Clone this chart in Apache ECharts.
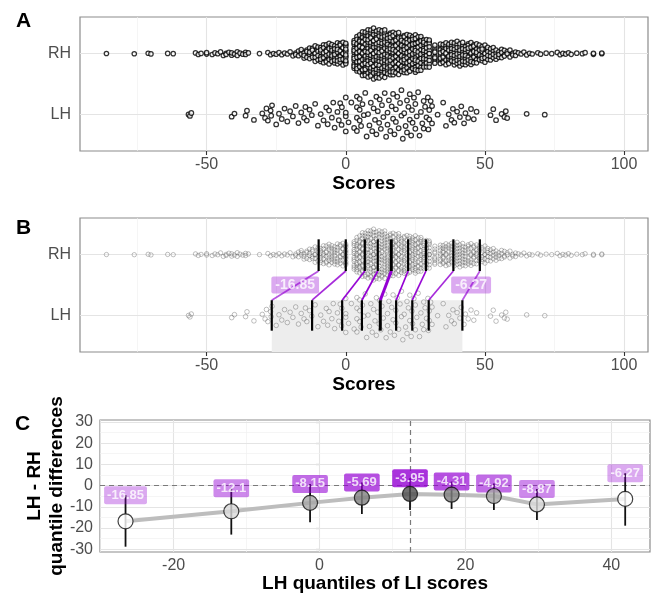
<!DOCTYPE html>
<html>
<head>
<meta charset="utf-8">
<script src="https://cdn.jsdelivr.net/npm/echarts@6/dist/echarts.min.js"></script>
<style>
  html, body { margin: 0; padding: 0; background: #fff; }
  #chart { width: 651px; height: 595px; }
</style>
</head>
<body>
<div id="chart"></div>
<script>
const rhValues = [-86, -76, -71, -70, -64, -62, -54, -53, -52, -50, -48, -47, -46, -45, -44, -43, -42, -41, -40, -39, -38, -37, -36, -35, -31, -28, -27, -26, -25, -24, -23, -22, -21,
  -20, -19, -18, -17, -16, -15, -14, -13, -12, -11, -10,
  -9, -8, -7, -6, -5, -4, -3, -2, -1, 0,
  3, 4, 5, 6, 7, 8, 9, 10, 11, 12, 13, 14, 15, 16,
  17, 18, 19, 20, 21, 22, 23, 24, 25, 26, 27, 28, 29, 30, 32,
  34, 35, 36, 37, 38, 39, 40, 41, 42, 43, 44, 45, 46, 47, 48,
  49, 50, 51, 52, 53, 54, 55, 56, 57, 58, 59, 60, 61, 62, 63, 64, 65, 66, 67, 69, 70, 72, 74, 76, 77, 78, 79, 80, 81, 83, 85, 86, 89, 92, 100];
const rhCounts = [1, 1, 1, 1, 1, 1, 1, 1, 1, 2, 1, 1, 1, 1, 1, 2, 1, 2, 1, 2, 1, 1, 2, 1, 1, 1, 1, 1, 1, 1, 1, 1, 1,
  1, 1, 2, 2, 3, 3, 3, 4, 4, 5, 5,
  6, 6, 6, 7, 7, 7, 7, 7, 7, 12,
  12, 13, 14, 15, 15, 15, 16, 16, 16, 15, 15, 15, 14, 14,
  13, 13, 12, 12, 12, 12, 12, 12, 12, 11, 11, 11, 11, 11, 9,
  8, 8, 7, 7, 7, 8, 8, 8, 8, 7, 7, 7, 7, 6, 6,
  6, 5, 5, 4, 4, 4, 3, 3, 3, 2, 2, 2, 2, 1, 1, 1, 1, 1, 1, 1, 1, 1, 1, 1, 1, 1, 1, 1, 1, 1, 1, 1, 2, 2];

// LH laterality scores
const lhScores = [-56.5, -56, -55.5, -41, -40, -36, -35.5, -33, -30, -29, -28.5, -28, -27, -26.8, -26.5,
  -25, -24, -23, -22, -21, -20, -19, -18, -17, -16, -15, -14.5, -14, -13, -12.2,
  -11, -10, -9, -8, -7, -6.5, -6, -5, -4.5, -4, -3, -2.5, -2, -1.5, -1.4,
  0, 0, 0, 0, 1, 2, 3, 4, 4, 4, 4, 5, 5, 5, 5.5,
  6, 6.5, 7, 7.5, 8, 8.5, 9, 9.5, 10, 10.5, 11, 11, 11.5, 12, 12.2,
  12.6, 13, 13.5, 14, 14.5, 15, 15, 15.5, 16, 16.5, 17, 17, 17.5, 18, 18,
  18.5, 19, 19.5, 20, 20, 20.5, 21, 21.5, 22, 22, 22.5, 23, 23, 23.5, 23.8,
  24, 24.5, 25, 25, 25.5, 26, 26.5, 27, 27.5, 28, 28, 28.5, 29, 29.5, 29.7,
  30, 30, 30.5, 31, 31, 33, 35, 36, 37, 38, 38.5, 39, 40, 41, 41.5,
  42.5, 43, 44, 45, 46, 47, 52, 53, 54, 56, 57, 57.5, 58, 65, 71.5];

// shift function: deciles of each group and LH - RH differences with intervals
const lhDeciles = [-26.6, -12.1, -1.3, 5.8, 12.4, 18.1, 23.9, 29.8, 41.9];
const rhDeciles = [-9.75, 0, 6.85, 11.49, 16.35, 22.41, 28.82, 38.67, 48.17];
const differences = [-16.85, -12.1, -8.15, -5.69, -3.95, -4.31, -4.92, -8.87, -6.27];
const ciLow = [-28.8, -23.1, -17.3, -13.4, -11.5, -11, -11.5, -16.2, -18.9];
const ciHigh = [-4.5, -1.3, 0.8, 1.5, 3.4, 1.9, 1, -1.6, 5.8];

const groups = ['LH', 'RH'];
const scoreTicks = [-50, 0, 50, 100];
const scoreMinor = [-75, -25, 25, 75];
const quantTicks = [-20, 0, 20, 40];
const quantMinor = [-30, -10, 10, 30];
const diffTicks = [-30, -20, -10, 0, 10, 20, 30];
const diffMinor = [-25, -15, -5, 5, 15, 25];

// styles
const decileAlpha = [0.42, 0.58, 0.72, 0.86, 1, 0.86, 0.72, 0.58, 0.42];
const decileFill = ['#ffffff', '#d9d9d9', '#a6a6a6', '#808080', '#4d4d4d', '#808080', '#a6a6a6', '#d9d9d9', '#ffffff'];
const violet = a => 'rgba(148,0,211,' + a + ')';
const FONT = 'Liberation Sans';

// quasirandom offsets (same idea as ggbeeswarm::geom_quasirandom)
function vanDerCorput(n) {
  const out = [];
  for (let i = 1; i <= n; i++) {
    let k = i, f = 0.5, v = 0;
    while (k > 0) { v += (k % 2) * f; k = Math.floor(k / 2); f /= 2; }
    out.push(v);
  }
  return out;
}
function quantile(s, p) {
  const h = (s.length - 1) * p, lo = Math.floor(h);
  return s[lo] + (h - lo) * ((s[lo + 1] ?? s[lo]) - s[lo]);
}
function quasirandom(values, center, width) {
  const s = values.slice().sort((a, b) => a - b);
  const n = s.length;
  const mean = s.reduce((a, b) => a + b, 0) / n;
  const sd = Math.sqrt(s.reduce((a, b) => a + (b - mean) * (b - mean), 0) / (n - 1));
  const iqr = quantile(s, 0.75) - quantile(s, 0.25);
  const bw = 0.5 * 0.9 * Math.min(sd, iqr / 1.34) * Math.pow(n, -0.2);
  const dens = s.map(v => s.reduce((acc, w) => acc + Math.exp(-0.5 * ((v - w) / bw) ** 2), 0));
  const maxD = Math.max(...dens);
  const vdc = vanDerCorput(n);
  return s.map((v, i) => [v, center + (vdc[i] - 0.5) * 2 * width * dens[i] / maxD]);
}

const rhAll = [];
rhValues.forEach((v, i) => { for (let k = 0; k < rhCounts[i]; k++) rhAll.push(v); });
const rhPoints = quasirandom(rhAll, 2, 0.42);
const lhPoints = quasirandom(lhScores, 1, 0.42);

function gridLines(major, minor, axis) {
  const d = [];
  minor.forEach(v => d.push({ [axis]: v, lineStyle: { color: '#f0f0f0', width: 0.7, type: 'solid' } }));
  major.forEach(v => d.push({ [axis]: v, lineStyle: { color: '#e4e4e4', width: 1.1, type: 'solid' } }));
  return d;
}
function markLines(data, z) {
  return { silent: true, symbol: ['none', 'none'], label: { show: false }, animation: false, z: z, data: data };
}

const tickStyle = { show: true, length: 4, lineStyle: { color: '#333', width: 1.1 } };
const labelStyle = { color: '#4d4d4d', fontSize: 16, fontFamily: FONT };
const nameStyle = { color: '#000', fontSize: 19, fontWeight: 'bold', fontFamily: FONT };

function scoreAxis(idx) {
  return {
    type: 'value', gridIndex: idx, min: -95.5, max: 108.6,
    name: 'Scores', nameLocation: 'middle', nameGap: 23, nameTextStyle: nameStyle, nameMoveOverlap: false,
    axisLine: { show: false },
    axisTick: Object.assign({ customValues: scoreTicks }, tickStyle),
    axisLabel: Object.assign({ customValues: scoreTicks, margin: 6 }, labelStyle),
    splitLine: { show: false }
  };
}
function groupAxis(idx) {
  return {
    type: 'value', gridIndex: idx, min: 0.4, max: 2.6,
    axisLine: { show: false },
    axisTick: Object.assign({ customValues: [1, 2] }, tickStyle),
    axisLabel: Object.assign({ customValues: [1, 2], margin: 9, formatter: v => groups[Math.round(v) - 1] }, labelStyle),
    splitLine: { show: false }
  };
}
const gridBase = { show: true, backgroundColor: '#fff', borderColor: '#8c8c8c', borderWidth: 1.2, containLabel: false, outerBoundsMode: 'none' };

function segment(styleFn) {
  return function (params, api) {
    const p0 = api.coord([api.value(0), api.value(1)]);
    const p1 = api.coord([api.value(2), api.value(3)]);
    return { type: 'line', shape: { x1: p0[0], y1: p0[1], x2: p1[0], y2: p1[1] }, style: styleFn(api.value(4)) };
  };
}

const decileSegs = [];
rhDeciles.forEach((x, i) => decileSegs.push([x, 1.73, x, 2.25, i]));
lhDeciles.forEach((x, i) => decileSegs.push([x, 0.75, x, 1.25, i]));
const linkSegs = rhDeciles.map((x, i) => [x, 1.73, lhDeciles[i], 1.25, i]);
const bLabels = [0, 8].map(i => ({
  value: [(rhDeciles[i] + lhDeciles[i]) / 2, 1.5, String(differences[i])],
  label: { backgroundColor: violet(decileAlpha[i]) }
}));
const ciSegs = lhDeciles.map((x, i) => [x, ciLow[i], x, ciHigh[i], i]);
const cLabels = lhDeciles.map((x, i) => ({
  value: [x, ciHigh[i], String(differences[i])],
  label: { backgroundColor: violet(decileAlpha[i]) }
}));
const cPoints = lhDeciles.map((x, i) => ({ value: [x, differences[i]], itemStyle: { color: decileFill[i] } }));

const labelBox = {
  show: true, position: 'inside', formatter: p => p.value[2], color: '#fff',
  fontWeight: 'bold', fontFamily: FONT, borderRadius: 2
};
const swarmA = { color: '#fff', borderColor: '#000', borderWidth: 1.25 };
const swarmB = { color: 'rgba(255,255,255,0.2)', borderColor: 'rgba(60,60,60,0.45)', borderWidth: 0.9 };

const option = {
  animation: false,
  textStyle: { fontFamily: FONT },
  grid: [
    Object.assign({ left: 80, top: 17, width: 568, height: 134 }, gridBase),
    Object.assign({ left: 80, top: 218, width: 568, height: 134 }, gridBase),
    Object.assign({ left: 100, top: 420, width: 550, height: 132 }, gridBase)
  ],
  xAxis: [
    scoreAxis(0),
    scoreAxis(1),
    {
      type: 'value', gridIndex: 2, min: -30.1, max: 45.3,
      name: 'LH quantiles of LI scores', nameLocation: 'middle', nameGap: 22, nameTextStyle: nameStyle, nameMoveOverlap: false,
      axisLine: { show: false },
      axisTick: Object.assign({ customValues: quantTicks }, tickStyle),
      axisLabel: Object.assign({ customValues: quantTicks, margin: 6 }, labelStyle),
      splitLine: { show: false }
    }
  ],
  yAxis: [
    groupAxis(0),
    groupAxis(1),
    {
      type: 'value', gridIndex: 2, min: -31.3, max: 30.9,
      name: 'LH - RH\nquantile differences', nameLocation: 'middle', nameRotate: 90, nameGap: 32, nameMoveOverlap: false,
      nameTextStyle: Object.assign({ lineHeight: 22 }, nameStyle),
      axisLine: { show: false },
      axisTick: Object.assign({ customValues: diffTicks }, tickStyle),
      axisLabel: Object.assign({ customValues: diffTicks, margin: 7 }, labelStyle),
      splitLine: { show: false }
    }
  ],
  graphic: [
    { type: 'text', left: 16, top: 11, style: { text: 'A', font: 'bold 21px "Liberation Sans"', fill: '#000' } },
    { type: 'text', left: 16, top: 218, style: { text: 'B', font: 'bold 21px "Liberation Sans"', fill: '#000' } },
    { type: 'text', left: 15, top: 414, style: { text: 'C', font: 'bold 21px "Liberation Sans"', fill: '#000' } }
  ],
  series: [
    // ---- A
    {
      type: 'scatter', xAxisIndex: 0, yAxisIndex: 0, data: rhPoints, symbolSize: 4.4, silent: true,
      itemStyle: swarmA,
      markLine: markLines(gridLines(scoreTicks, scoreMinor, 'xAxis').concat(gridLines([1, 2], [], 'yAxis')), 1)
    },
    {
      type: 'scatter', xAxisIndex: 0, yAxisIndex: 0, data: lhPoints, symbolSize: 4.6, silent: true,
      itemStyle: swarmA
    },
    // ---- B
    {
      type: 'scatter', xAxisIndex: 1, yAxisIndex: 1, data: rhPoints, symbolSize: 4.4, silent: true,
      itemStyle: swarmB,
      markLine: markLines(gridLines(scoreTicks, scoreMinor, 'xAxis').concat(gridLines([1, 2], [], 'yAxis')), 1),
      markArea: {
        silent: true, z: 1.5, itemStyle: { color: '#ededed' },
        data: [[{ xAxis: lhDeciles[0], yAxis: 1.25 }, { xAxis: lhDeciles[8], yAxis: 0.4 }]]
      }
    },
    {
      type: 'scatter', xAxisIndex: 1, yAxisIndex: 1, data: lhPoints, symbolSize: 4.6, silent: true,
      itemStyle: swarmB
    },
    {
      type: 'custom', xAxisIndex: 1, yAxisIndex: 1, data: linkSegs, silent: true, z: 3,
      renderItem: segment(i => ({ stroke: violet(Math.min(1, decileAlpha[i] + 0.25)), lineWidth: i === 4 ? 3 : 1.7 }))
    },
    {
      type: 'custom', xAxisIndex: 1, yAxisIndex: 1, data: decileSegs, silent: true, z: 4,
      renderItem: segment(i => ({ stroke: '#000', lineWidth: i === 4 ? 3 : 2.2 }))
    },
    {
      type: 'scatter', xAxisIndex: 1, yAxisIndex: 1, data: bLabels, symbolSize: 1, silent: true, z: 5,
      itemStyle: { color: 'rgba(0,0,0,0)' },
      label: Object.assign({ fontSize: 14, padding: [2, 4, 1, 4] }, labelBox)
    },
    // ---- C
    {
      type: 'line', xAxisIndex: 2, yAxisIndex: 2, data: lhDeciles.map((x, i) => [x, differences[i]]),
      showSymbol: false, silent: true, z: 2,
      lineStyle: { color: '#bdbdbd', width: 4 },
      markLine: markLines(
        gridLines(quantTicks, quantMinor, 'xAxis')
          .concat(gridLines(diffTicks, diffMinor, 'yAxis'))
          .concat([
            { yAxis: 0, lineStyle: { color: '#7a7a7a', width: 1.2, type: [5, 4] } },
            { xAxis: lhDeciles[4], lineStyle: { color: '#7a7a7a', width: 1.2, type: [5, 4] } }
          ]), 1)
    },
    {
      type: 'custom', xAxisIndex: 2, yAxisIndex: 2, data: ciSegs, silent: true, z: 3,
      renderItem: segment(() => ({ stroke: '#111', lineWidth: 1.8 }))
    },
    {
      type: 'scatter', xAxisIndex: 2, yAxisIndex: 2, data: cLabels, symbolSize: 1, silent: true, z: 4,
      itemStyle: { color: 'rgba(0,0,0,0)' },
      label: Object.assign({ fontSize: 13, padding: [3, 3, 2, 3] }, labelBox)
    },
    {
      type: 'scatter', xAxisIndex: 2, yAxisIndex: 2, data: cPoints, symbolSize: 15, silent: true, z: 5,
      itemStyle: { borderColor: '#111', borderWidth: 1.2 }
    }
  ]
};

const chart = echarts.init(document.getElementById('chart'), null, { renderer: 'canvas' });
chart.setOption(option);
</script>
</body>
</html>
